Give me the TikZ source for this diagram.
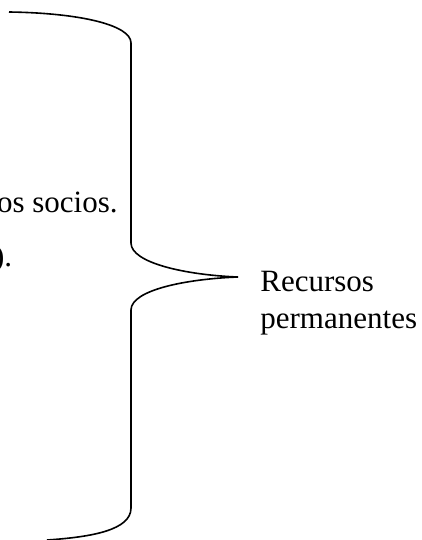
\documentclass[tikz,border=0pt]{standalone}
\usepackage{fontspec}
\setmainfont{Liberation Serif}
\usepackage{tikz}
\usetikzlibrary{positioning}

\tikzset{
  txt/.style={inner sep=0pt,font=\fontsize{15.5}{18}\selectfont},
  bracket/.style={line width=0.8pt}
}

\begin{document}
\begin{tikzpicture}[x=0.5pt,y=-0.5pt]
\useasboundingbox (0,0) rectangle (422,540);
\def\upperarm{(9,12) .. controls (80,13) and (131,25) .. (131,43) -- (131,243)
  .. controls (131,263) and (186,275) .. (238,277)}
  \def\lowerarm{(238,277) .. controls (186,279) and (131,290) .. (131,310) -- (131,508)
  .. controls (131,530) and (92,537) .. (47,540)}
    \draw[bracket] \upperarm;
    \draw[bracket] \lowerarm;
      \node[txt,anchor=base east] (socios) at (118,212) {os socios.};
      \node[txt,anchor=base east] (cierre) at (12.5,266) {).};
      \node[txt,anchor=base west] (recursos) at (260,291) {Recursos};
      \node[txt,anchor=base west] (permanentes) at (260,328) {permanentes};
\end{tikzpicture}
\end{document}
